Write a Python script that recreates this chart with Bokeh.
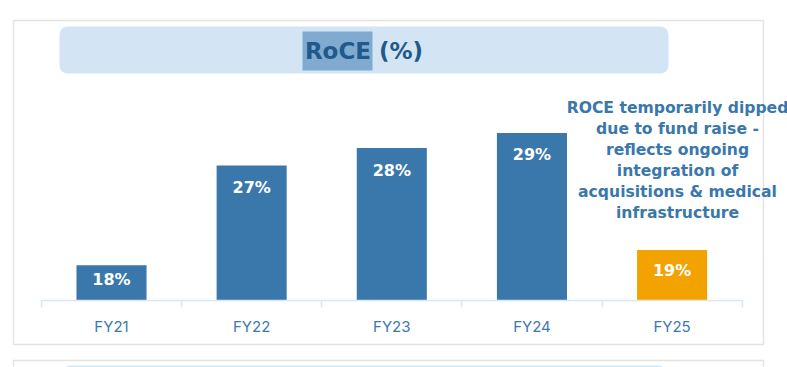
from bokeh.plotting import figure
from bokeh.models import Range1d, LinearAxis, FixedTicker
from bokeh.core.properties import value
from bokeh.embed import file_html
from bokeh.resources import INLINE

# ---- data ----
categories = ["FY21", "FY22", "FY23", "FY24", "FY25"]
roce = [18.0, 26.6, 28.1, 29.4, 19.3]
highlight_year = "FY25"
title_text = "RoCE (%)"
note_lines = ["ROCE temporarily dipped", "due to fund raise -", "reflects ongoing",
              "integration of", "acquisitions & medical", "infrastructure"]

# ---- styling / geometry ----
BLUE = "#3a78ac"
ORANGE = "#f2a300"
BOLD_FONT = "DejaVu Sans"
REG_FONT = "Inter"
W, H = 787, 367
BASE = 15.0          # value at the category axis
PXU = 11.6           # pixels per value unit
BASE_PY = 299.5      # page y of the axis
CW = 140.15          # category width in px
X0 = 111.0           # page x of first category centre

y_top = BASE + BASE_PY / PXU
y_bot = BASE - (H - BASE_PY) / PXU
x_start = (0 - X0) / CW
x_end = (W - X0) / CW

p = figure(width=W, height=H, output_backend="svg", toolbar_location=None,
           x_range=Range1d(x_start, x_end), y_range=Range1d(y_bot, y_top),
           x_axis_location=None, y_axis_location=None, min_border=0,
           background_fill_color="white", border_fill_color="white",
           outline_line_color=None)
p.xgrid.visible = False
p.ygrid.visible = False
p.extra_x_ranges = {"px": Range1d(0, W)}
p.extra_y_ranges = {"py": Range1d(H, 0)}
deco = dict(x_range_name="px", y_range_name="py")

# panel boxes
p.quad(left=[13], right=[763], top=[20], bottom=[344], fill_color="white",
       line_color="#e4e4e4", line_width=1.5, **deco)
p.quad(left=[13], right=[763], top=[360], bottom=[420], fill_color="white",
       line_color="#e4e4e4", line_width=1.5, **deco)
p.quad(left=[62], right=[666], top=[365], bottom=[420], fill_color="#d5e6f4",
       line_color=None, border_radius=8, **deco)
# title banner
p.quad(left=[59], right=[668], top=[26], bottom=[73], fill_color="#d3e5f4",
       line_color=None, border_radius=8, **deco)
p.quad(left=[302], right=[372], top=[31], bottom=[70], fill_color="#80aad0",
       line_color=None, **deco)
p.text(x=[363.5], y=[50.5], text=[title_text], text_align="center",
       text_baseline="middle", text_font=value(BOLD_FONT), text_font_style="bold",
       text_font_size="23px", text_color="#215a8a", **deco)

# bars
xs = list(range(len(categories)))
colors = [ORANGE if c == highlight_year else BLUE for c in categories]
p.vbar(x=xs, top=roce, bottom=BASE, width=0.5, fill_color=colors, line_color=None)

labels = [f"{round(v)}%" for v in roce]
offsets = [min(22.0, 0.4 * (v - BASE) * PXU) for v in roce]
p.text(x=xs, y=roce, text=labels, y_offset=offsets, text_align="center",
       text_baseline="middle", text_font=value(BOLD_FONT), text_font_style="bold",
       text_font_size="16px", text_color="white")

# annotation
note_y = [107 + 21 * i for i in range(len(note_lines))]
p.text(x=[677] * len(note_lines), y=note_y, text=note_lines, text_align="center",
       text_baseline="middle", text_font=value(BOLD_FONT), text_font_style="bold",
       text_font_size="15.6px", text_color="#3a77ab", **deco)

# category axis
ax = LinearAxis(fixed_location=BASE, bounds=(-0.5, len(categories) - 0.5),
                ticker=FixedTicker(ticks=xs,
                                   minor_ticks=[i - 0.5 for i in range(len(categories) + 1)]))
ax.major_label_overrides = {i: c for i, c in enumerate(categories)}
ax.major_tick_out = 0
ax.major_tick_in = 0
ax.minor_tick_out = 7
ax.minor_tick_in = 0
ax.axis_line_color = "#d9e7f3"
ax.axis_line_width = 1.5
ax.minor_tick_line_color = "#d9e7f3"
ax.minor_tick_line_width = 1.5
ax.major_label_text_font = REG_FONT
ax.major_label_text_font_size = "15px"
ax.major_label_text_color = "#3b78b3"
ax.major_label_standoff = 10
p.add_layout(ax, "below")

open("out.html", "w").write(file_html(p, INLINE))
